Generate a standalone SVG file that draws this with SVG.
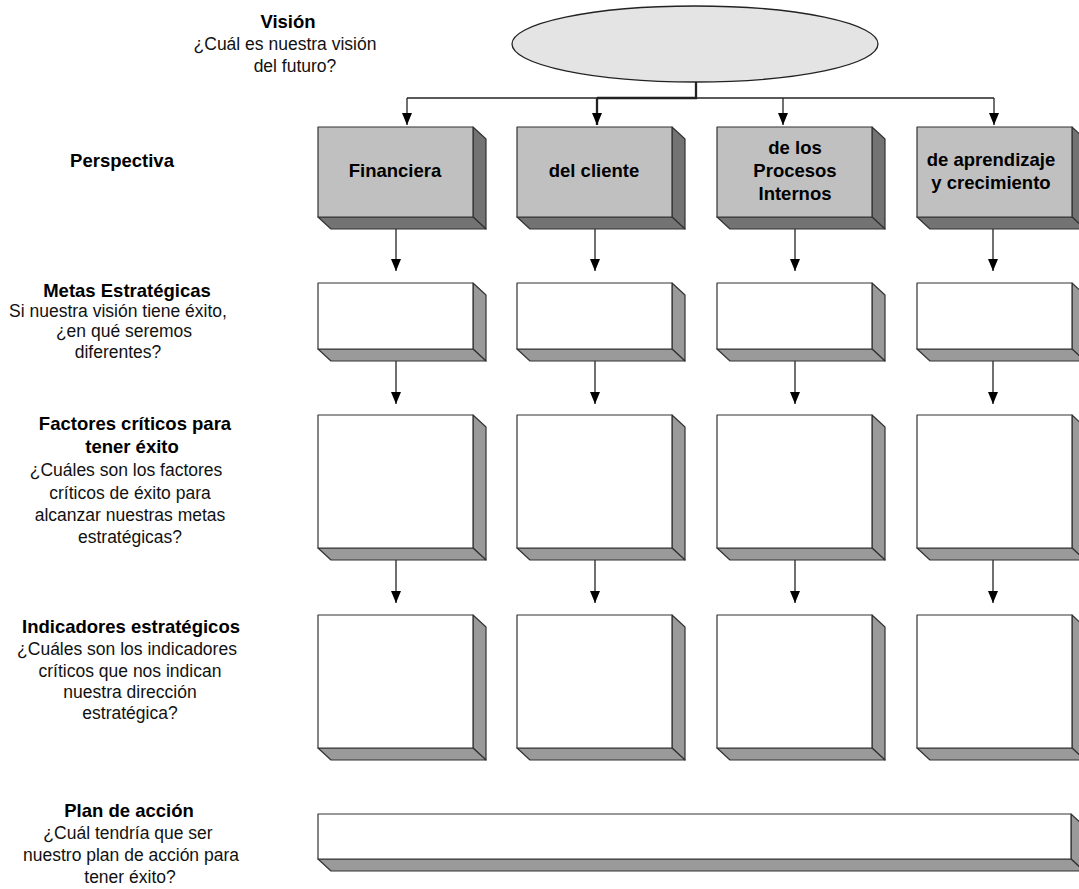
<svg xmlns="http://www.w3.org/2000/svg" width="1079" height="889" viewBox="0 0 1079 889">
<style>
text{font-family:"Liberation Sans",Arial,sans-serif;fill:#000}
.lb{font-size:18.5px;font-weight:bold;text-anchor:middle}
.lr{font-size:17.5px;text-anchor:middle;fill:#111}
.bt{font-size:18.5px;font-weight:bold;text-anchor:middle}
.face{stroke:#333;stroke-width:1.2;stroke-linejoin:round}
.hf{fill:#c0c0c0}
.hs{fill:#737373}
.wf{fill:#fff}
.ws{fill:#9a9a9a}
.con{stroke:#222;stroke-width:1.3;fill:none}
.bold{stroke-width:2.3}
</style>
<defs>
<marker id="ah" markerUnits="userSpaceOnUse" markerWidth="12" markerHeight="13" refX="5" refY="12" orient="auto-start-reverse" viewBox="0 0 10 13">
<path d="M0,1 L10,1 L5,12 Z" fill="#000"/>
</marker>
<marker id="ahd" markerUnits="userSpaceOnUse" markerWidth="12" markerHeight="13" refX="5" refY="12" orient="0" viewBox="0 0 10 13">
<path d="M0,0 L10,0 L5,12 Z" fill="#000"/>
</marker>
</defs>

<g id="labels">
<text class="lb" x="288" y="28">Visión</text>
<text class="lr" x="285" y="50">¿Cuál es nuestra visión</text>
<text class="lr" x="295" y="72">del futuro?</text>
<text class="lb" x="122" y="167">Perspectiva</text>
<text class="lb" x="127" y="297">Metas Estratégicas</text>
<text class="lr" x="118" y="317">Si nuestra visión tiene éxito,</text>
<text class="lr" x="124" y="337">¿en qué seremos</text>
<text class="lr" x="118" y="358">diferentes?</text>
<text class="lb" x="135" y="430">Factores críticos para</text>
<text class="lb" x="132" y="453">tener éxito</text>
<text class="lr" x="126" y="476">¿Cuáles son los factores</text>
<text class="lr" x="130" y="499">críticos de éxito para</text>
<text class="lr" x="130" y="521">alcanzar nuestras metas</text>
<text class="lr" x="130" y="543">estratégicas?</text>
<text class="lb" x="131" y="633">Indicadores estratégicos</text>
<text class="lr" x="127" y="655">¿Cuáles son los indicadores</text>
<text class="lr" x="130" y="677">críticos que nos indican</text>
<text class="lr" x="130" y="698">nuestra dirección</text>
<text class="lr" x="130" y="719">estratégica?</text>
<text class="lb" x="129" y="817">Plan de acción</text>
<text class="lr" x="128" y="839">¿Cuál tendría que ser</text>
<text class="lr" x="131" y="861">nuestro plan de acción para</text>
<text class="lr" x="130" y="883">tener éxito?</text>
</g>

<g id="vision">
<ellipse cx="695" cy="44" rx="183" ry="38" fill="#e4e4e4" stroke="#222" stroke-width="1.3"/>
</g>

<g id="connectors">
<path class="con" d="M407,98 H597"/>
<path class="con" d="M696,98 H994"/>
<path class="con bold" d="M696,82 V98 H597"/>
<line class="con" x1="407" y1="98" x2="407" y2="125" marker-end="url(#ahd)"/>
<line class="con bold" x1="597" y1="98" x2="597" y2="125" marker-end="url(#ahd)"/>
<line class="con" x1="783" y1="98" x2="783" y2="125" marker-end="url(#ahd)"/>
<line class="con" x1="994" y1="98" x2="994" y2="125" marker-end="url(#ahd)"/>

<line class="con" x1="396" y1="229" x2="396" y2="271" marker-end="url(#ahd)"/>
<line class="con" x1="595" y1="229" x2="595" y2="271" marker-end="url(#ahd)"/>
<line class="con" x1="795" y1="229" x2="795" y2="271" marker-end="url(#ahd)"/>
<line class="con" x1="993" y1="229" x2="993" y2="271" marker-end="url(#ahd)"/>

<line class="con" x1="396" y1="361" x2="396" y2="404" marker-end="url(#ahd)"/>
<line class="con" x1="595" y1="361" x2="595" y2="404" marker-end="url(#ahd)"/>
<line class="con" x1="795" y1="361" x2="795" y2="404" marker-end="url(#ahd)"/>
<line class="con" x1="993" y1="361" x2="993" y2="404" marker-end="url(#ahd)"/>

<line class="con" x1="396" y1="560" x2="396" y2="603" marker-end="url(#ahd)"/>
<line class="con" x1="595" y1="560" x2="595" y2="603" marker-end="url(#ahd)"/>
<line class="con" x1="795" y1="560" x2="795" y2="603" marker-end="url(#ahd)"/>
<line class="con" x1="993" y1="560" x2="993" y2="603" marker-end="url(#ahd)"/>
</g>

<!-- Perspectiva row: y 127..217, depth 13/12 -->
<g id="p-financiera">
<polygon class="face hs" points="473,127 486,139 486,229 473,217"/>
<polygon class="face hs" points="318,217 473,217 486,229 331,229"/>
<rect class="face hf" x="318" y="127" width="155" height="90"/>
<text class="bt" x="395" y="177">Financiera</text>
</g>
<g id="p-cliente">
<polygon class="face hs" points="672,127 685,139 685,229 672,217"/>
<polygon class="face hs" points="517,217 672,217 685,229 530,229"/>
<rect class="face hf" x="517" y="127" width="155" height="90"/>
<text class="bt" x="594" y="177">del cliente</text>
</g>
<g id="p-procesos">
<polygon class="face hs" points="872,127 885,139 885,229 872,217"/>
<polygon class="face hs" points="717,217 872,217 885,229 730,229"/>
<rect class="face hf" x="717" y="127" width="155" height="90"/>
<text class="bt" x="795" y="154">de los</text>
<text class="bt" x="795" y="177">Procesos</text>
<text class="bt" x="795" y="200">Internos</text>
</g>
<g id="p-aprendizaje">
<polygon class="face hs" points="1072,127 1085,139 1085,229 1072,217"/>
<polygon class="face hs" points="917,217 1072,217 1085,229 930,229"/>
<rect class="face hf" x="917" y="127" width="155" height="90"/>
<text class="bt" x="991" y="166">de aprendizaje</text>
<text class="bt" x="991" y="189">y crecimiento</text>
</g>

<!-- Metas row: y 283..349 -->
<g id="m-1">
<polygon class="face ws" points="473,283 486,295 486,361 473,349"/>
<polygon class="face ws" points="318,349 473,349 486,361 331,361"/>
<rect class="face wf" x="318" y="283" width="155" height="66"/>
</g>
<g id="m-2">
<polygon class="face ws" points="672,283 685,295 685,361 672,349"/>
<polygon class="face ws" points="517,349 672,349 685,361 530,361"/>
<rect class="face wf" x="517" y="283" width="155" height="66"/>
</g>
<g id="m-3">
<polygon class="face ws" points="872,283 885,295 885,361 872,349"/>
<polygon class="face ws" points="717,349 872,349 885,361 730,361"/>
<rect class="face wf" x="717" y="283" width="155" height="66"/>
</g>
<g id="m-4">
<polygon class="face ws" points="1072,283 1085,295 1085,361 1072,349"/>
<polygon class="face ws" points="917,349 1072,349 1085,361 930,361"/>
<rect class="face wf" x="917" y="283" width="155" height="66"/>
</g>

<!-- Factores row: y 415..548 -->
<g id="f-1">
<polygon class="face ws" points="473,415 486,427 486,560 473,548"/>
<polygon class="face ws" points="318,548 473,548 486,560 331,560"/>
<rect class="face wf" x="318" y="415" width="155" height="133"/>
</g>
<g id="f-2">
<polygon class="face ws" points="672,415 685,427 685,560 672,548"/>
<polygon class="face ws" points="517,548 672,548 685,560 530,560"/>
<rect class="face wf" x="517" y="415" width="155" height="133"/>
</g>
<g id="f-3">
<polygon class="face ws" points="872,415 885,427 885,560 872,548"/>
<polygon class="face ws" points="717,548 872,548 885,560 730,560"/>
<rect class="face wf" x="717" y="415" width="155" height="133"/>
</g>
<g id="f-4">
<polygon class="face ws" points="1072,415 1085,427 1085,560 1072,548"/>
<polygon class="face ws" points="917,548 1072,548 1085,560 930,560"/>
<rect class="face wf" x="917" y="415" width="155" height="133"/>
</g>

<!-- Indicadores row: y 615..748 -->
<g id="i-1">
<polygon class="face ws" points="473,615 486,627 486,760 473,748"/>
<polygon class="face ws" points="318,748 473,748 486,760 331,760"/>
<rect class="face wf" x="318" y="615" width="155" height="133"/>
</g>
<g id="i-2">
<polygon class="face ws" points="672,615 685,627 685,760 672,748"/>
<polygon class="face ws" points="517,748 672,748 685,760 530,760"/>
<rect class="face wf" x="517" y="615" width="155" height="133"/>
</g>
<g id="i-3">
<polygon class="face ws" points="872,615 885,627 885,760 872,748"/>
<polygon class="face ws" points="717,748 872,748 885,760 730,760"/>
<rect class="face wf" x="717" y="615" width="155" height="133"/>
</g>
<g id="i-4">
<polygon class="face ws" points="1072,615 1085,627 1085,760 1072,748"/>
<polygon class="face ws" points="917,748 1072,748 1085,760 930,760"/>
<rect class="face wf" x="917" y="615" width="155" height="133"/>
</g>

<!-- Plan de accion bar -->
<g id="plan">
<polygon class="face ws" points="1071,814 1084,826 1084,871 1071,859"/>
<polygon class="face ws" points="318,859 1071,859 1084,871 331,871"/>
<rect class="face wf" x="318" y="814" width="753" height="45"/>
</g>
</svg>
